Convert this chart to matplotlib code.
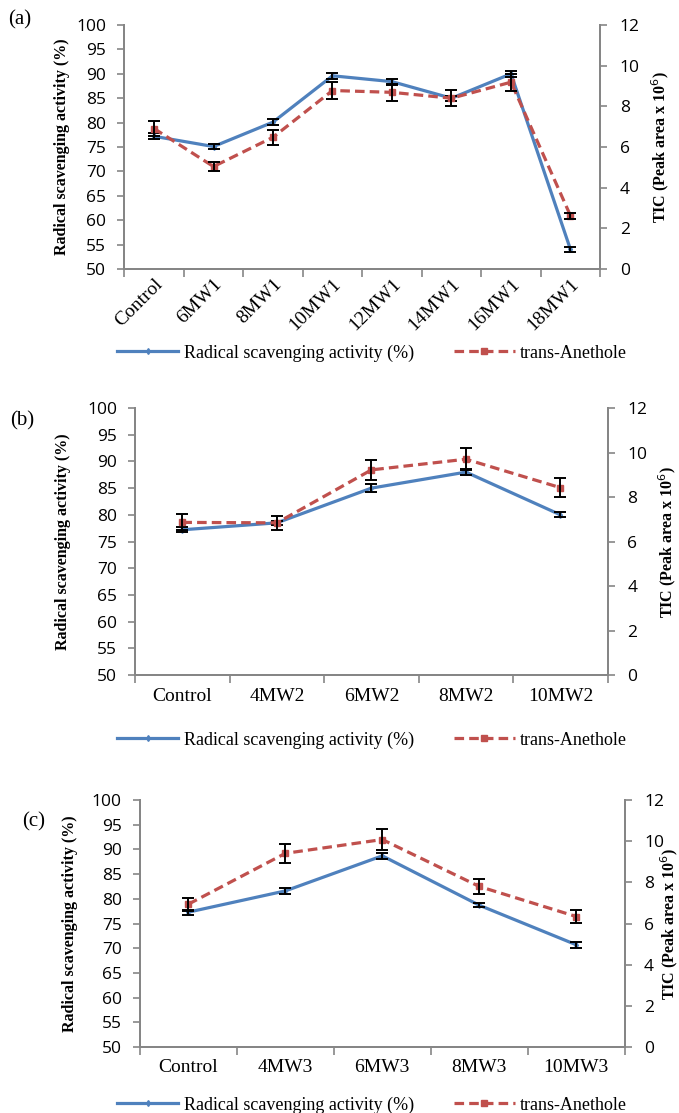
import matplotlib
matplotlib.use("Agg")
import matplotlib.pyplot as plt
import numpy as np

# ---- data ----
cats_a = ["Control", "6MW1", "8MW1", "10MW1", "12MW1", "14MW1", "16MW1", "18MW1"]
rsa_a = [77.2, 75.1, 80.1, 89.6, 88.4, 85.0, 90.0, 54.0]
rsa_err_a = [0.6, 0.5, 0.6, 0.6, 0.6, 0.5, 0.6, 0.5]
tic_a = [6.91, 5.04, 6.48, 8.78, 8.69, 8.40, 9.19, 2.62]
tic_err_a = [0.37, 0.22, 0.36, 0.40, 0.42, 0.40, 0.42, 0.15]

cats_b = ["Control", "4MW2", "6MW2", "8MW2", "10MW2"]
rsa_b = [77.2, 78.5, 85.0, 88.0, 80.0]
rsa_err_b = [0.5, 0.4, 0.7, 0.6, 0.5]
tic_b = [6.86, 6.84, 9.22, 9.70, 8.42]
tic_err_b = [0.36, 0.30, 0.45, 0.50, 0.43]

cats_c = ["Control", "4MW3", "6MW3", "8MW3", "10MW3"]
rsa_c = [77.3, 81.6, 88.7, 78.7, 70.7]
rsa_err_c = [0.5, 0.6, 0.6, 0.4, 0.6]
tic_c = [6.94, 9.41, 10.08, 7.80, 6.34]
tic_err_c = [0.31, 0.46, 0.52, 0.37, 0.31]

left_ticks = list(range(50, 101, 5))
right_ticks = list(range(0, 13, 2))

BLUE = "#4F81BD"
RED = "#C0504D"
GRAY = "#868686"
SERIF = "Liberation Serif"
NUMF = "Open Sans"

fig = plt.figure(figsize=(6.79, 11.13), dpi=100)


def panel(rect, cats, rsa, rsa_err, tic, tic_err, tag, tag_xy, rotate, leg_y,
          lab_x, rlab_x):
    ax = fig.add_axes(rect)
    ax2 = ax.twinx()
    n = len(cats)
    x = np.arange(n) + 0.5

    ax.set_xlim(0, n)
    ax.set_ylim(50, 100)
    ax2.set_ylim(0, 12)
    ax.set_yticks(left_ticks)
    ax2.set_yticks(right_ticks)

    # category ticks at bin edges, labels at centres
    ax.set_xticks(np.arange(n + 1))
    ax.set_xticklabels([])
    ax.set_xticks(x, minor=True)
    if rotate:
        ax.set_xticklabels(cats, minor=True, rotation=45, ha="right",
                           rotation_mode="anchor", family=SERIF, fontsize=14)
        ax.tick_params(axis="x", which="minor", length=0, pad=5)
    else:
        ax.set_xticklabels(cats, minor=True, family=SERIF, fontsize=14)
        ax.tick_params(axis="x", which="minor", length=0, pad=9)
    ax.tick_params(axis="x", which="major", length=6, color=GRAY, width=1.2)

    for a in (ax, ax2):
        a.spines["top"].set_visible(False)
        for s in ("left", "right", "bottom"):
            a.spines[s].set_color(GRAY)
            a.spines[s].set_linewidth(1.4)
    ax.tick_params(axis="y", length=5, color=GRAY, width=1.2, labelsize=12.5, pad=8)
    ax2.tick_params(axis="y", length=5, color=GRAY, width=1.2, labelsize=12.5, pad=9)
    for lab in ax.get_yticklabels() + ax2.get_yticklabels():
        lab.set_family(NUMF)

    ax.set_ylabel("Radical scavenging activity (%)", family=SERIF, fontweight="bold",
                  fontsize=11.5)
    ax2.set_ylabel("TIC (Peak area x 10$^6$)", family=SERIF, fontweight="bold",
                   fontsize=11.5)
    ax.yaxis.set_label_coords(lab_x, 0.5)
    ax2.yaxis.set_label_coords(rlab_x, 0.5)

    l1, = ax.plot(x, rsa, color=BLUE, lw=2.3, marker="d", ms=3, zorder=3,
                  label="Radical scavenging activity (%)")
    ax.errorbar(x, rsa, yerr=rsa_err, fmt="none", ecolor="black", elinewidth=1.4,
                capsize=4, capthick=1.4, zorder=4)
    l2, = ax2.plot(x, tic, color=RED, lw=2.3, ls=(0, (3, 1.6)), marker="s", ms=4.5,
                   zorder=3, label="trans-Anethole")
    ax2.errorbar(x, tic, yerr=tic_err, fmt="none", ecolor="black", elinewidth=1.4,
                 capsize=4, capthick=1.4, zorder=4)

    fig.text(tag_xy[0], tag_xy[1], tag, family=SERIF, fontsize=15, va="center")
    fig.legend([l1, l2], [l1.get_label(), l2.get_label()], loc="center",
               bbox_to_anchor=(0.548, leg_y), ncol=2, frameon=False,
               prop={"family": SERIF, "size": 13}, handlelength=3.4,
               columnspacing=2.2, handletextpad=0.3)
    return ax


panel([0.183, 0.7583, 0.701, 0.2192], cats_a, rsa_a, rsa_err_a, tic_a, tic_err_a,
      "(a)", (0.012, 0.982), True, 1 - 353 / 1113, -0.115, 1.103)
panel([0.199, 0.3935, 0.696, 0.2399], cats_b, rsa_b, rsa_err_b, tic_b, tic_err_b,
      "(b)", (0.015, 0.622), False, 1 - 740 / 1113, -0.135, 1.102)
panel([0.206, 0.0593, 0.714, 0.2219], cats_c, rsa_c, rsa_err_c, tic_c, tic_err_c,
      "(c)", (0.033, 0.262), False, 1 - 1105 / 1113, -0.127, 1.068)

fig.savefig("out.png", dpi=100)
